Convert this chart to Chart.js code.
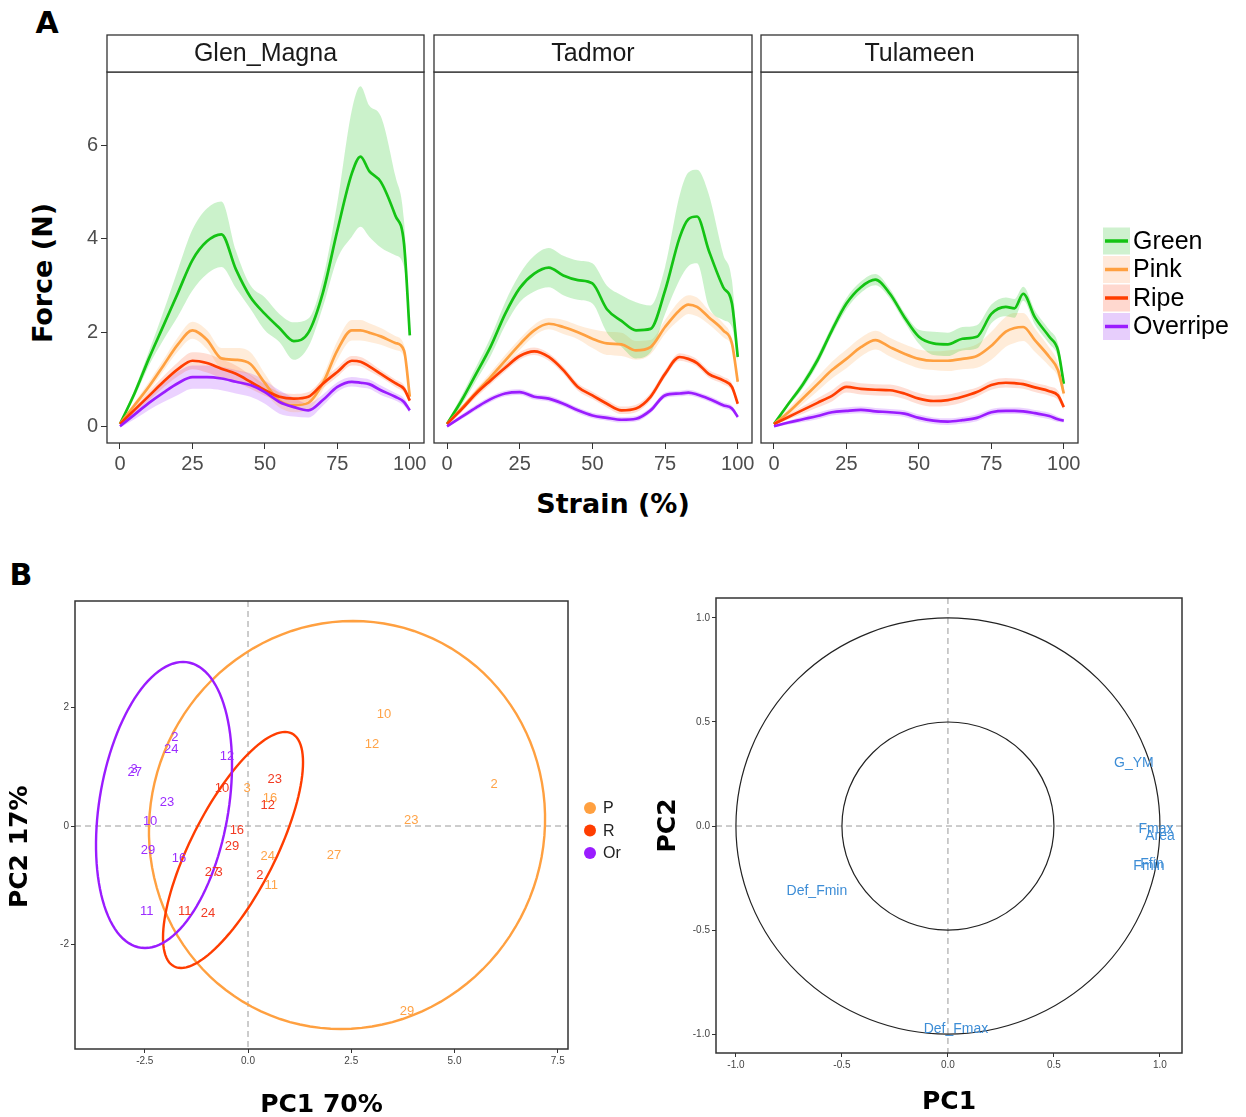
<!DOCTYPE html>
<html lang="en">
<head>
<meta charset="UTF-8">
<title>Force-strain curves and PCA</title>
<script src="https://cdn.jsdelivr.net/npm/chart.js@4.4.1/dist/chart.umd.min.js"></script>
<style>
  html, body { margin:0; padding:0; background:#fff; overflow:hidden; }
  #fig { position:relative; width:1246px; height:1117px; }
  canvas { position:absolute; }
  .lbl { position:absolute; font-family:'DejaVu Sans', sans-serif; font-weight:bold; color:#000;
         white-space:nowrap; transform:translate(-50%,-50%); }
</style>
</head>
<body>
<div id="fig">
  <div class="lbl" style="left:47px;top:22px;font-size:30px">A</div>
  <div class="lbl" style="left:21px;top:574px;font-size:30px">B</div>
  <div class="lbl" style="left:42px;top:273px;font-size:27px;transform:translate(-50%,-50%) rotate(-90deg)">Force (N)</div>
  <div class="lbl" style="left:613px;top:503px;font-size:27px">Strain (%)</div>
  <canvas id="a1"></canvas>
  <canvas id="a2"></canvas>
  <canvas id="a3"></canvas>
  <canvas id="b1"></canvas>
  <canvas id="b2"></canvas>
</div>
<script>
// ---------------- panel A data ----------------
const strain = [0,5,10,15,20,25,30,35,40,45,50,55,60,65,70,75,80,83,86,90,95,98,100];
const stages = ['Green','Pink','Ripe','Overripe'];
const varieties = ['Glen_Magna','Tadmor','Tulameen'];
const xTicksA = [0,25,50,75,100];
const yTicksA = [0,2,4,6];

// mean force (N) and half width of the ribbon
const glenGreen   = [0.05,0.7,1.45,2.15,2.85,3.55,3.95,4.1,3.35,2.76,2.4,2.1,1.82,2.0,2.85,4.18,5.4,5.76,5.45,5.22,4.5,3.9,1.94];
const glenGreenSd = [0.02,0.08,0.15,0.3,0.5,0.65,0.7,0.7,0.4,0.25,0.35,0.3,0.4,0.3,0.3,0.6,1.35,1.5,1.4,1.4,0.85,0.5,0.1];
const glenPink    = [0.05,0.45,0.85,1.3,1.75,2.05,1.85,1.45,1.42,1.33,0.92,0.55,0.45,0.5,0.92,1.62,2.05,2.05,2.0,1.92,1.78,1.62,0.63];
const glenPinkSd  = [0.03,0.06,0.1,0.12,0.15,0.18,0.2,0.22,0.25,0.25,0.2,0.15,0.15,0.15,0.15,0.2,0.22,0.22,0.2,0.18,0.15,0.12,0.1];
const glenRipe    = [0.05,0.35,0.65,0.95,1.22,1.4,1.35,1.23,1.12,0.95,0.77,0.63,0.59,0.63,0.91,1.16,1.4,1.38,1.28,1.12,0.92,0.8,0.55];
const glenRipeSd  = [0.03,0.06,0.1,0.12,0.15,0.18,0.2,0.2,0.18,0.15,0.12,0.1,0.1,0.1,0.1,0.1,0.1,0.1,0.1,0.08,0.08,0.08,0.05];
const glenOver    = [0,0.25,0.5,0.72,0.92,1.05,1.05,1.02,0.95,0.88,0.73,0.52,0.41,0.34,0.56,0.84,0.95,0.93,0.9,0.77,0.63,0.52,0.34];
const glenOverSd  = [0.03,0.1,0.15,0.2,0.25,0.25,0.25,0.25,0.25,0.25,0.25,0.25,0.2,0.15,0.12,0.1,0.1,0.1,0.1,0.1,0.08,0.08,0.05];

const tadGreen    = [0.05,0.55,1.12,1.7,2.4,2.95,3.26,3.39,3.22,3.12,3.05,2.5,2.25,2.05,2.08,2.9,4.03,4.42,4.48,3.76,2.97,2.62,1.48];
const tadGreenSd  = [0.03,0.1,0.15,0.2,0.25,0.3,0.38,0.42,0.42,0.42,0.43,0.5,0.55,0.6,0.5,0.5,0.9,1.0,1.0,1.2,0.7,0.5,0.1];
const tadPink     = [0.05,0.38,0.72,1.05,1.4,1.75,2.05,2.19,2.12,2.01,1.87,1.77,1.75,1.62,1.69,2.12,2.48,2.6,2.55,2.33,2.05,1.77,0.95];
const tadPinkSd   = [0.03,0.05,0.08,0.1,0.12,0.12,0.12,0.12,0.15,0.15,0.2,0.25,0.25,0.2,0.15,0.15,0.2,0.2,0.2,0.15,0.15,0.1,0.1];
const tadRipe     = [0.05,0.36,0.7,0.98,1.25,1.5,1.6,1.48,1.2,0.84,0.66,0.48,0.34,0.38,0.63,1.12,1.48,1.44,1.35,1.12,0.98,0.84,0.48];
const tadRipeSd   = [0.03,0.06,0.08,0.08,0.08,0.08,0.08,0.08,0.08,0.08,0.08,0.08,0.08,0.08,0.08,0.08,0.08,0.08,0.08,0.08,0.08,0.08,0.05];
const tadOver     = [0,0.2,0.4,0.58,0.7,0.73,0.63,0.59,0.48,0.34,0.23,0.18,0.14,0.16,0.34,0.66,0.7,0.72,0.68,0.59,0.45,0.38,0.2];
const tadOverSd   = [0.02,0.05,0.06,0.06,0.06,0.06,0.06,0.06,0.06,0.06,0.06,0.06,0.06,0.06,0.06,0.06,0.06,0.06,0.06,0.06,0.06,0.06,0.04];

const tulGreen    = [0.05,0.48,0.9,1.41,2.05,2.62,2.97,3.13,2.83,2.33,1.91,1.77,1.75,1.87,1.91,2.4,2.55,2.52,2.83,2.33,1.91,1.62,0.91];
const tulGreenSd  = [0.02,0.05,0.08,0.1,0.1,0.12,0.12,0.12,0.1,0.1,0.15,0.25,0.25,0.25,0.25,0.2,0.2,0.2,0.15,0.15,0.15,0.15,0.15];
const tulPink     = [0.05,0.3,0.6,0.9,1.2,1.44,1.69,1.84,1.69,1.55,1.44,1.4,1.4,1.44,1.5,1.72,2.02,2.1,2.12,1.84,1.48,1.2,0.7];
const tulPinkSd   = [0.03,0.08,0.12,0.15,0.18,0.2,0.2,0.2,0.2,0.2,0.2,0.2,0.22,0.22,0.25,0.3,0.32,0.32,0.3,0.25,0.2,0.15,0.1];
const tulRipe     = [0.05,0.2,0.35,0.5,0.65,0.84,0.8,0.78,0.77,0.7,0.59,0.54,0.56,0.63,0.73,0.88,0.93,0.92,0.9,0.83,0.75,0.66,0.41];
const tulRipeSd   = [0.02,0.05,0.08,0.1,0.12,0.12,0.12,0.12,0.12,0.12,0.12,0.12,0.12,0.12,0.1,0.1,0.1,0.1,0.1,0.1,0.1,0.1,0.06];
const tulOver     = [0,0.08,0.15,0.22,0.3,0.33,0.35,0.32,0.3,0.27,0.18,0.12,0.1,0.13,0.18,0.3,0.33,0.33,0.32,0.28,0.22,0.15,0.12];
const tulOverSd   = [0.02,0.04,0.06,0.07,0.07,0.07,0.07,0.07,0.07,0.07,0.07,0.07,0.07,0.07,0.07,0.07,0.07,0.07,0.07,0.07,0.07,0.06,0.04];

// ---------------- panel B data ----------------
const groups = ['P','R','Or'];
const pIds  = ['10','12','2','23','27','24','11','29','3','16'];
const pPC1  = [3.29,3.00,5.96,3.95,2.08,0.48,0.56,3.85,-0.02,0.53];
const pPC2  = [1.89,1.37,0.71,0.10,-0.49,-0.52,-1.01,-3.14,0.64,0.46];
const rIds  = ['23','12','10','16','29','27','3','2','11','24'];
const rPC1  = [0.65,0.48,-0.63,-0.27,-0.39,-0.87,-0.70,0.29,-1.53,-0.97];
const rPC2  = [0.78,0.34,0.63,-0.07,-0.34,-0.79,-0.79,-0.84,-1.44,-1.47];
const orIds = ['2','24','12','27','3','23','10','29','16','11'];
const orPC1 = [-1.77,-1.86,-0.51,-2.74,-2.76,-1.96,-2.37,-2.42,-1.67,-2.45];
const orPC2 = [1.50,1.30,1.17,0.90,0.96,0.39,0.08,-0.42,-0.54,-1.45];
// confidence ellipses: centre, top semi-diameter (ax, ay) and horizontal semi-diameter bx
const ellCx = [2.397,-0.363,-2.034];
const ellCy = [0.017,-0.405,0.355];
const ellAx = [0.145,1.259,0.460];
const ellAy = [3.446,1.993,2.416];
const ellBx = [4.794,1.135,1.581];
const xTicksB1 = [-2.5,0,2.5,5,7.5];
const yTicksB1 = [-2,0,2];

const varNames = ['G_YM','Fmax','Area','Fmin','Ffin','Def_Fmin','Def_Fmax'];
const varPC1   = [0.877,0.981,1.0,0.948,0.962,-0.618,0.038];
const varPC2   = [0.302,-0.014,-0.048,-0.192,-0.182,-0.312,-0.978];
const circleR  = [1,0.5];
const ticksB2  = [-1,-0.5,0,0.5,1];

// ---------------- styling ----------------
const lineCols   = ['#14C314','#FFA040','#FF3D00','#9A1CFF'];
const ribbonCols = ['rgba(20,195,20,0.22)','rgba(255,160,64,0.2)','rgba(255,61,0,0.17)','rgba(154,28,255,0.2)'];
const keyCols    = ['#CFF1CF','#FFE9DB','#FFD8CF','#E7CEFC'];
const groupCols  = ['#FFA040','#FF3D00','#9A1CFF'];
const groupText  = ['#FFA347','#F23A22','#9B2CFF'];

Chart.defaults.font.family = '"Liberation Sans", Arial, sans-serif';
Chart.defaults.animation = false;
Chart.defaults.events = [];

function place(id, x, y, w, h) {
  const c = document.getElementById(id);
  c.width = w; c.height = h;
  c.style.left = x + 'px'; c.style.top = y + 'px';
  return c;
}
function fixTicks(arr) { return s => { s.ticks = arr.map(v => ({value: v})); }; }
function tickGrid(len) {
  return { display: true, drawOnChartArea: false, drawTicks: true, tickLength: len, color: '#333', lineWidth: 1 };
}

// ---------------- plugins ----------------
const framePlugin = {
  id: 'frame',
  afterDatasetsDraw(chart, args, o) {
    const a = chart.chartArea, ctx = chart.ctx;
    ctx.save();
    ctx.strokeStyle = '#333'; ctx.lineWidth = o.width || 1.3;
    ctx.strokeRect(a.left, a.top, a.right - a.left, a.bottom - a.top);
    ctx.restore();
  }
};
const stripPlugin = {
  id: 'strip',
  afterDraw(chart, args, o) {
    if (!o.text) return;
    const a = chart.chartArea, ctx = chart.ctx, h = o.height;
    ctx.save();
    ctx.fillStyle = '#fff';
    ctx.fillRect(a.left, a.top - h, a.right - a.left, h);
    ctx.strokeStyle = '#333'; ctx.lineWidth = 1.3;
    ctx.strokeRect(a.left, a.top - h, a.right - a.left, h);
    ctx.fillStyle = '#1a1a1a';
    ctx.font = '25px "Liberation Sans"';
    ctx.textAlign = 'center'; ctx.textBaseline = 'middle';
    ctx.fillText(o.text, (a.left + a.right) / 2, a.top - h / 2 + 1);
    ctx.restore();
  }
};
const stageLegend = {
  id: 'stageLegend',
  afterDraw(chart, args, o) {
    if (!o.show) return;
    const ctx = chart.ctx, x0 = chart.chartArea.right + 25;
    ctx.save();
    ctx.font = '25px "Liberation Sans"';
    ctx.textBaseline = 'middle';
    stages.forEach((st, k) => {
      const yc = o.top + k * 28.5;
      ctx.fillStyle = keyCols[k];
      ctx.fillRect(x0, yc - 13.5, 27, 27);
      ctx.strokeStyle = lineCols[k]; ctx.lineWidth = 3.5;
      ctx.beginPath(); ctx.moveTo(x0 + 2, yc); ctx.lineTo(x0 + 25, yc); ctx.stroke();
      ctx.fillStyle = '#000';
      ctx.fillText(st, x0 + 30, yc + 1);
    });
    ctx.restore();
  }
};
const zeroLines = {
  id: 'zeroLines',
  beforeDatasetsDraw(chart) {
    const {ctx, chartArea: a, scales: {x, y}} = chart;
    const px = x.getPixelForValue(0), py = y.getPixelForValue(0);
    ctx.save();
    ctx.setLineDash([6, 4]); ctx.strokeStyle = '#9a9a9a'; ctx.lineWidth = 1;
    ctx.beginPath();
    ctx.moveTo(px, a.top); ctx.lineTo(px, a.bottom);
    ctx.moveTo(a.left, py); ctx.lineTo(a.right, py);
    ctx.stroke();
    ctx.restore();
  }
};
const ellipsePlugin = {
  id: 'ellipses',
  beforeDatasetsDraw(chart) {
    const {ctx, scales: {x, y}} = chart;
    ctx.save();
    ctx.lineWidth = 2.4;
    groups.forEach((g, k) => {
      ctx.strokeStyle = groupCols[k];
      ctx.beginPath();
      for (let i = 0; i <= 120; i++) {
        const t = i / 120 * Math.PI * 2;
        const vx = ellCx[k] + Math.cos(t) * ellAx[k] + Math.sin(t) * ellBx[k];
        const vy = ellCy[k] + Math.cos(t) * ellAy[k];
        const px = x.getPixelForValue(vx), py = y.getPixelForValue(vy);
        if (i === 0) ctx.moveTo(px, py); else ctx.lineTo(px, py);
      }
      ctx.closePath();
      ctx.stroke();
    });
    ctx.restore();
  }
};
const circlePlugin = {
  id: 'circles',
  beforeDatasetsDraw(chart) {
    const {ctx, scales: {x, y}} = chart;
    const cx = x.getPixelForValue(0), cy = y.getPixelForValue(0);
    ctx.save();
    ctx.strokeStyle = '#222'; ctx.lineWidth = 1.2;
    circleR.forEach(r => {
      ctx.beginPath();
      ctx.ellipse(cx, cy, x.getPixelForValue(r) - cx, cy - y.getPixelForValue(r), 0, 0, Math.PI * 2);
      ctx.stroke();
    });
    ctx.restore();
  }
};
const textMarks = {
  id: 'textMarks',
  afterDatasetsDraw(chart, args, o) {
    const ctx = chart.ctx;
    ctx.save();
    ctx.font = o.font;
    ctx.textAlign = 'center'; ctx.textBaseline = 'middle';
    chart.data.datasets.forEach((ds, i) => {
      if (!ds.ids) return;
      ctx.fillStyle = ds.textColor;
      chart.getDatasetMeta(i).data.forEach((pt, j) => ctx.fillText(ds.ids[j], pt.x, pt.y));
    });
    ctx.restore();
  }
};
const groupLegend = {
  id: 'groupLegend',
  afterDraw(chart, args, o) {
    if (!o.show) return;
    const ctx = chart.ctx;
    ctx.save();
    ctx.font = '16px "Liberation Sans"';
    ctx.textBaseline = 'middle';
    groups.forEach((g, k) => {
      const yc = o.y0 + k * 22.5;
      ctx.fillStyle = groupCols[k];
      ctx.beginPath(); ctx.arc(o.x, yc, 6, 0, Math.PI * 2); ctx.fill();
      ctx.fillStyle = '#222';
      ctx.fillText(g, o.x + 13, yc + 1);
    });
    ctx.restore();
  }
};

// ---------------- panel A facets ----------------
const facetData = [
  [[glenGreen, glenGreenSd], [glenPink, glenPinkSd], [glenRipe, glenRipeSd], [glenOver, glenOverSd]],
  [[tadGreen, tadGreenSd], [tadPink, tadPinkSd], [tadRipe, tadRipeSd], [tadOver, tadOverSd]],
  [[tulGreen, tulGreenSd], [tulPink, tulPinkSd], [tulRipe, tulRipeSd], [tulOver, tulOverSd]]
];
const facetBoxes = [
  {id: 'a1', x: 20,  w: 412, padL: 47, yW: 40, padR: 8},
  {id: 'a2', x: 430, w: 340, padL: 4,  yW: 0,  padR: 18},
  {id: 'a3', x: 757, w: 489, padL: 4,  yW: 0,  padR: 168}
];

facetBoxes.forEach((b, f) => {
  const cv = place(b.id, b.x, 0, b.w, 490);
  const datasets = [];
  stages.forEach((st, k) => {
    const m = facetData[f][k][0], sd = facetData[f][k][1];
    datasets.push({label: st + ' upper', data: strain.map((s, i) => ({x: s, y: m[i] + sd[i]})),
      borderWidth: 0, pointRadius: 0, fill: '+1', backgroundColor: ribbonCols[k], order: 10});
    datasets.push({label: st + ' lower', data: strain.map((s, i) => ({x: s, y: m[i] - sd[i]})),
      borderWidth: 0, pointRadius: 0, fill: false, order: 10});
  });
  stages.forEach((st, k) => {
    const m = facetData[f][k][0];
    datasets.push({label: st, data: strain.map((s, i) => ({x: s, y: m[i]})),
      borderColor: lineCols[k], borderWidth: 2.7, pointRadius: 0, fill: false, order: 4 - k});
  });
  new Chart(cv, {
    type: 'line',
    data: {datasets},
    options: {
      responsive: false,
      elements: {line: {cubicInterpolationMode: 'monotone'}},
      layout: {padding: {left: b.padL, right: b.padR, top: 72, bottom: 12}},
      plugins: {
        legend: {display: false}, tooltip: {enabled: false},
        strip: {text: varieties[f], height: 37},
        stageLegend: {show: f === 2, top: 241},
        frame: {width: 1.3}
      },
      scales: {
        x: {type: 'linear', min: -4.48, max: 104.9,
            afterBuildTicks: fixTicks(xTicksA), afterFit: s => { s.height = 35; },
            grid: tickGrid(6), border: {display: false},
            ticks: {font: {size: 20}, color: '#4D4D4D', padding: 3, maxRotation: 0, autoSkip: false}},
        y: {type: 'linear', min: -0.357, max: 7.566, display: f === 0,
            afterBuildTicks: fixTicks(yTicksA), afterFit: s => { s.width = b.yW; },
            grid: tickGrid(6), border: {display: false},
            ticks: {font: {size: 20}, color: '#4D4D4D', padding: 3}}
      }
    },
    plugins: [framePlugin, stripPlugin, stageLegend]
  });
});

// ---------------- panel B: individuals ----------------
const titleFont = {family: '"DejaVu Sans"', size: 25, weight: 'bold'};
const smallTicks = {font: {size: 10}, color: '#444', padding: 2, autoSkip: false, maxRotation: 0};

const b1 = place('b1', 0, 590, 672, 535);
new Chart(b1, {
  type: 'scatter',
  data: {datasets: [
    {label: 'P',  data: pPC1.map((v, i) => ({x: v, y: pPC2[i]})),  ids: pIds,  textColor: groupText[0], pointRadius: 0},
    {label: 'R',  data: rPC1.map((v, i) => ({x: v, y: rPC2[i]})),  ids: rIds,  textColor: groupText[1], pointRadius: 0},
    {label: 'Or', data: orPC1.map((v, i) => ({x: v, y: orPC2[i]})), ids: orIds, textColor: groupText[2], pointRadius: 0}
  ]},
  options: {
    responsive: false,
    layout: {padding: {left: 5, right: 104, top: 11, bottom: 5}},
    plugins: {
      legend: {display: false}, tooltip: {enabled: false},
      textMarks: {font: '13px "Liberation Sans"'},
      groupLegend: {show: true, x: 590, y0: 218},
      frame: {width: 1.5}
    },
    scales: {
      x: {type: 'linear', min: -4.189, max: 7.748,
          afterBuildTicks: fixTicks(xTicksB1), afterFit: s => { s.height = 71; },
          grid: tickGrid(4), border: {display: false},
          ticks: Object.assign({callback: v => v.toFixed(1)}, smallTicks),
          title: {display: true, text: 'PC1 70%', font: titleFont, color: '#000', padding: 0}},
      y: {type: 'linear', min: -3.767, max: 3.801,
          afterBuildTicks: fixTicks(yTicksB1), afterFit: s => { s.width = 70; },
          grid: tickGrid(4), border: {display: false},
          ticks: smallTicks,
          title: {display: true, text: 'PC2 17%\u00a0\u00a0\u00a0\u00a0\u00a0', font: titleFont, color: '#000', padding: 0}}
    }
  },
  plugins: [zeroLines, ellipsePlugin, textMarks, framePlugin, groupLegend]
});

// ---------------- panel B: variables ----------------
const b2 = place('b2', 640, 590, 606, 535);
new Chart(b2, {
  type: 'scatter',
  data: {datasets: [
    {label: 'variables', data: varPC1.map((v, i) => ({x: v, y: varPC2[i]})), ids: varNames, textColor: '#3D8DD6', pointRadius: 0}
  ]},
  options: {
    responsive: false,
    layout: {padding: {left: 13, right: 64, top: 7, bottom: 8}},
    plugins: {
      legend: {display: false}, tooltip: {enabled: false},
      textMarks: {font: '14px "Liberation Sans"'},
      frame: {width: 1.5}
    },
    scales: {
      x: {type: 'linear', min: -1.094, max: 1.104,
          afterBuildTicks: fixTicks(ticksB2), afterFit: s => { s.height = 64; },
          grid: tickGrid(4), border: {display: false},
          ticks: Object.assign({callback: v => v.toFixed(1)}, smallTicks),
          title: {display: true, text: 'PC1', font: titleFont, color: '#000', padding: 0}},
      y: {type: 'linear', min: -1.091, max: 1.096,
          afterBuildTicks: fixTicks(ticksB2), afterFit: s => { s.width = 63; },
          grid: tickGrid(4), border: {display: false},
          ticks: Object.assign({callback: v => v.toFixed(1)}, smallTicks),
          title: {display: true, text: 'PC2', font: titleFont, color: '#000', padding: 0}}
    }
  },
  plugins: [zeroLines, circlePlugin, textMarks, framePlugin]
});
</script>
</body>
</html>
